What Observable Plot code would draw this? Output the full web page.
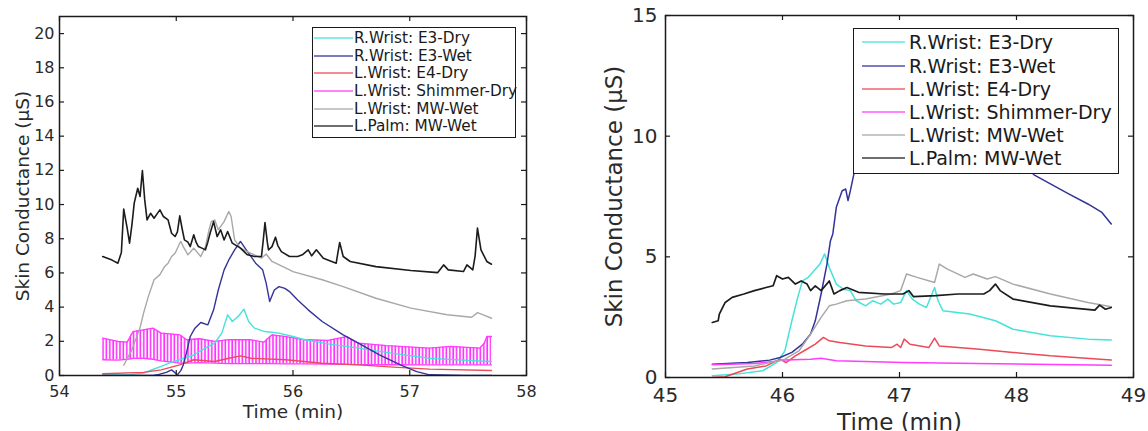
<!DOCTYPE html>
<html>
<head>
<meta charset="utf-8">
<script src="https://cdn.jsdelivr.net/npm/d3@7"></script>
<script src="https://cdn.jsdelivr.net/npm/@observablehq/plot@0.6"></script>
<style>
  html, body { margin: 0; padding: 0; background: #fff; }
  #wrap { position: relative; width: 1148px; height: 431px; overflow: hidden; font-family: "DejaVu Sans", sans-serif; }
  .panel { position: absolute; top: 0; }
  .legend { position: absolute; background: #fff; border: 1.6px solid #1a1a1a; box-sizing: border-box; color: #1a1a1a; }
  .legend .row { position: absolute; left: 0; white-space: nowrap; display: flex; align-items: center; }
</style>
</head>
<body>
<div id="wrap"></div>
<script>
// ---------------- DATA ----------------
const seriesNames = ["R.Wrist: E3-Dry", "R.Wrist: E3-Wet", "L.Wrist: E4-Dry", "L.Wrist: Shimmer-Dry", "L.Wrist: MW-Wet", "L.Palm: MW-Wet"];
const seriesColors = ["#45e3d8", "#33339a", "#ec4a58", "#ff3cff", "#a8a8a8", "#1c1c1c"];

// Left panel (time in min, skin conductance in µS)
const leftXTicks = [54, 55, 56, 57, 58];
const leftYTicks = [0, 2, 4, 6, 8, 10, 12, 14, 16, 18, 20];

const e3DryL = [[54.37,0.02],[54.60,0.05],[54.72,0.14],[54.80,0.35],[54.87,0.53],[54.95,0.75],[55.03,0.92],[55.15,1.2],[55.25,1.6],[55.33,1.9],[55.39,2.48],[55.44,3.55],[55.48,3.16],[55.53,3.45],[55.58,3.88],[55.62,3.16],[55.67,2.77],[55.76,2.57],[55.88,2.48],[56.00,2.28],[56.10,2.09],[56.30,1.85],[56.56,1.6],[56.90,1.25],[57.17,1.01],[57.45,0.9],[57.70,0.82]];
const e3WetL = [[54.37,0],[54.80,0],[54.84,0.04],[54.92,0.2],[54.96,0.33],[55.00,0.1],[55.01,0.04],[55.04,0.3],[55.06,0.62],[55.09,1.4],[55.12,2.28],[55.16,2.77],[55.21,3.1],[55.27,2.96],[55.32,3.84],[55.36,5.0],[55.41,6.18],[55.45,6.76],[55.50,7.35],[55.55,7.84],[55.61,7.25],[55.68,6.57],[55.74,6.18],[55.77,5.4],[55.80,4.33],[55.84,5.0],[55.88,5.2],[55.93,5.1],[55.97,4.91],[56.04,4.42],[56.13,3.84],[56.25,3.16],[56.43,2.38],[56.56,1.89],[56.74,1.21],[56.92,0.62],[57.06,0.23],[57.17,0.04],[57.47,0],[57.70,0]];
const e4DryL = [[54.37,0.1],[54.72,0.18],[54.87,0.33],[55.03,0.62],[55.15,0.92],[55.33,0.82],[55.45,1.01],[55.55,1.15],[55.64,1.01],[55.94,0.92],[56.25,0.72],[56.56,0.62],[56.86,0.49],[57.17,0.37],[57.70,0.29]];
// Shimmer: [time, lower envelope, upper envelope] of the fast oscillation
const shimmerL = [[54.37,0.92,2.18],[54.50,0.9,1.99],[54.58,0.95,1.95],[54.63,1.0,2.57],[54.72,1.01,2.67],[54.80,0.95,2.77],[54.87,0.85,2.48],[55.03,0.72,2.38],[55.09,0.72,2.09],[55.20,0.75,2.15],[55.33,0.72,1.99],[55.45,0.7,2.1],[55.64,0.7,2.09],[55.75,0.7,1.95],[55.82,0.7,2.38],[55.94,0.68,2.28],[56.10,0.68,2.09],[56.30,0.66,2.05],[56.46,0.65,2.28],[56.56,0.64,1.89],[56.80,0.63,1.75],[57.17,0.62,1.6],[57.35,0.62,1.7],[57.60,0.62,1.6],[57.64,0.62,1.9],[57.66,0.62,2.28],[57.70,0.62,2.28]];
const mwWristL = [[54.55,0.6],[54.62,1.5],[54.69,2.8],[54.72,3.65],[54.76,4.6],[54.81,5.6],[54.86,5.9],[54.90,6.37],[54.93,6.57],[54.96,6.96],[54.99,7.15],[55.03,7.74],[55.04,7.84],[55.06,7.54],[55.10,7.06],[55.15,7.45],[55.21,6.96],[55.25,7.54],[55.28,8.5],[55.30,9.0],[55.33,9.1],[55.36,8.52],[55.41,9.0],[55.45,9.59],[55.47,9.3],[55.50,7.93],[55.55,7.45],[55.64,7.15],[55.73,6.86],[55.77,7.11],[55.82,6.67],[55.94,6.28],[56.00,6.08],[56.25,5.6],[56.43,5.2],[56.71,4.52],[57.01,3.94],[57.32,3.55],[57.53,3.41],[57.58,3.68],[57.63,3.55],[57.70,3.35]];
const mwPalmL = [[54.37,6.96],[54.45,6.75],[54.50,6.57],[54.53,7.2],[54.55,9.73],[54.58,8.6],[54.60,7.74],[54.62,8.8],[54.64,10.08],[54.67,10.95],[54.69,10.47],[54.71,11.99],[54.73,10.27],[54.75,9.1],[54.78,9.49],[54.81,9.2],[54.84,9.5],[54.86,9.69],[54.89,9.3],[54.93,9.1],[54.96,8.32],[54.99,8.13],[55.01,8.4],[55.03,9.34],[55.05,8.6],[55.07,7.93],[55.10,7.8],[55.12,7.54],[55.15,8.23],[55.17,7.8],[55.19,7.54],[55.22,7.45],[55.25,7.35],[55.27,7.8],[55.29,8.32],[55.32,9.0],[55.35,8.13],[55.38,8.52],[55.41,7.93],[55.44,8.42],[55.48,7.74],[55.55,7.45],[55.61,7.06],[55.67,6.96],[55.73,6.96],[55.745,7.9],[55.76,8.95],[55.78,7.8],[55.79,7.35],[55.82,7.54],[55.85,8.09],[55.87,7.6],[55.90,7.25],[55.97,6.96],[56.04,6.96],[56.08,7.06],[56.13,7.35],[56.16,7.0],[56.20,7.35],[56.26,6.86],[56.37,6.57],[56.385,7.2],[56.40,7.78],[56.43,6.96],[56.49,6.67],[56.71,6.37],[57.01,6.14],[57.24,6.02],[57.29,6.47],[57.33,6.18],[57.46,6.08],[57.49,6.47],[57.54,6.18],[57.56,7.0],[57.58,8.62],[57.61,7.35],[57.66,6.67],[57.70,6.51]];

// Right panel
const rightXTicks = [45, 46, 47, 48, 49];
const rightYTicks = [0, 5, 10, 15];

const e3DryR = [[45.40,0.07],[45.61,0.14],[45.83,0.28],[45.95,0.62],[46.02,1.1],[46.08,2.35],[46.13,3.32],[46.17,4.0],[46.22,4.15],[46.27,4.42],[46.32,4.7],[46.36,5.12],[46.40,4.56],[46.46,3.87],[46.52,3.66],[46.58,3.6],[46.63,3.18],[46.71,2.97],[46.77,3.18],[46.84,3.04],[46.90,3.25],[46.95,3.04],[47.01,3.11],[47.06,3.6],[47.11,3.25],[47.17,3.04],[47.23,2.9],[47.30,3.73],[47.33,3.18],[47.37,2.77],[47.60,2.63],[47.82,2.35],[47.97,2.0],[48.29,1.73],[48.61,1.59],[48.81,1.55]];
const e3WetR = [[45.40,0.55],[45.70,0.62],[45.89,0.72],[45.98,0.83],[46.08,1.04],[46.17,1.38],[46.24,1.8],[46.28,2.35],[46.33,3.46],[46.38,4.7],[46.41,5.67],[46.43,5.95],[46.46,7.05],[46.51,7.74],[46.54,7.81],[46.56,7.33],[46.58,7.74],[46.61,8.43],[46.70,9.3],[46.90,10.2],[47.20,10.8],[47.60,10.6],[47.90,9.5],[48.15,8.4],[48.29,8.02],[48.45,7.6],[48.61,7.19],[48.73,6.84],[48.81,6.36]];
const e4DryR = [[45.40,0],[45.51,0.03],[45.70,0.35],[45.86,0.48],[45.98,0.76],[46.03,0.62],[46.11,0.9],[46.21,1.18],[46.28,1.38],[46.35,1.66],[46.40,1.52],[46.49,1.45],[46.71,1.31],[46.93,1.24],[46.98,1.38],[47.01,1.24],[47.04,1.59],[47.09,1.38],[47.25,1.24],[47.30,1.63],[47.34,1.31],[47.66,1.18],[47.97,1.04],[48.29,0.9],[48.81,0.73]];
const shimmerR = [[45.40,0.53],[45.76,0.58],[46.02,0.72],[46.24,0.76],[46.33,0.8],[46.46,0.69],[47.03,0.62],[47.66,0.58],[48.81,0.51]];
const mwWristR = [[45.40,0.35],[45.76,0.48],[46.02,0.76],[46.14,1.1],[46.24,1.8],[46.33,2.49],[46.40,2.97],[46.46,3.04],[46.55,3.18],[46.71,3.25],[46.93,3.46],[47.01,3.6],[47.06,4.29],[47.15,4.15],[47.30,3.94],[47.34,4.7],[47.41,4.49],[47.56,4.15],[47.63,4.29],[47.75,4.08],[47.82,4.18],[47.97,3.87],[48.29,3.46],[48.61,3.11],[48.81,2.93]];
const mwPalmR = [[45.40,2.28],[45.45,2.35],[45.46,2.63],[45.51,3.11],[45.57,3.32],[45.67,3.46],[45.76,3.6],[45.86,3.73],[45.92,3.8],[45.95,4.22],[46.00,4.08],[46.05,4.15],[46.11,3.87],[46.16,4.0],[46.21,3.87],[46.24,3.6],[46.28,3.8],[46.33,3.6],[46.40,4.0],[46.44,3.46],[46.49,3.6],[46.55,3.73],[46.65,3.53],[46.87,3.46],[47.03,3.46],[47.08,3.6],[47.12,3.35],[47.31,3.39],[47.50,3.46],[47.72,3.46],[47.77,3.6],[47.82,3.87],[47.86,3.6],[47.97,3.25],[48.29,2.97],[48.67,2.79],[48.71,3.0],[48.76,2.83],[48.81,2.9]];

// ---------------- DRAWING ----------------
const wrap = document.getElementById("wrap");
const ink = "#1a1a1a";
const fmt = d3.format("d");

function panel(cfg) {
  const innerW = cfg.width - cfg.ml - cfg.mr;
  const innerH = cfg.height - cfg.mt - cfg.mb;
  const T = d => d[0], V = d => d[1];
  const lines = cfg.series.map((s, i) => i === 3 ? null :
    Plot.line(s, {x: T, y: V, stroke: seriesColors[i], strokeWidth: i === 5 ? cfg.sw + 0.2 : cfg.sw, clip: true}));
  const shimmerMarks = cfg.hatch
    ? [Plot.areaY(cfg.series[3], {x: T, y1: d => d[1], y2: d => d[2], fill: `url(#${cfg.hatch})`}),
       Plot.line(cfg.series[3], {x: T, y: d => d[2], stroke: seriesColors[3], strokeWidth: 1.3}),
       Plot.line(cfg.series[3], {x: T, y: d => d[1], stroke: seriesColors[3], strokeWidth: 1.3})]
    : [Plot.line(cfg.series[3], {x: T, y: V, stroke: seriesColors[3], strokeWidth: cfg.sw})];
  const order = cfg.hatch ? [...shimmerMarks, lines[0], lines[2], lines[1], lines[4], lines[5]]
                          : [lines[0], lines[1], lines[2], ...shimmerMarks, lines[4], lines[5]];
  const svg = Plot.plot({
    width: cfg.width, height: cfg.height,
    marginLeft: cfg.ml, marginRight: cfg.mr, marginTop: cfg.mt, marginBottom: cfg.mb,
    x: {domain: cfg.xDomain},
    y: {domain: cfg.yDomain},
    style: {fontFamily: "DejaVu Sans", color: ink, background: "transparent", overflow: "visible"},
    marks: [
      ...order,
      Plot.frame({stroke: ink, strokeWidth: 1.5}),
      Plot.tickX(cfg.xTicks, {x: d => d, insetTop: innerH - 5, stroke: ink, strokeWidth: 1.2}),
      Plot.tickX(cfg.xTicks, {x: d => d, insetBottom: innerH - 5, stroke: ink, strokeWidth: 1.2}),
      Plot.tickY(cfg.yTicks, {y: d => d, insetRight: innerW - 5, stroke: ink, strokeWidth: 1.2}),
      Plot.tickY(cfg.yTicks, {y: d => d, insetLeft: innerW - 5, stroke: ink, strokeWidth: 1.2}),
      Plot.axisX(cfg.xTicks, {tickSize: 0, tickPadding: cfg.xPad, fontSize: cfg.tickFont, tickFormat: fmt, label: null, fill: "#2a2a2a"}),
      Plot.axisY(cfg.yTicks, {tickSize: 0, tickPadding: cfg.yPad, fontSize: cfg.tickFont, tickFormat: fmt, label: null, fill: "#2a2a2a"}),
      Plot.text(["Time (min)"], {frameAnchor: "bottom", dy: cfg.xTitleDy, textAnchor: "middle", lineAnchor: "middle", fontSize: cfg.titleFont, fill: "#2a2a2a"}),
      Plot.text(["Skin Conductance (\u03bcS)"], {frameAnchor: "left", dx: cfg.yTitleDx, textAnchor: "middle", lineAnchor: "middle", rotate: -90, fontSize: cfg.titleFont, fill: "#2a2a2a"})
    ]
  });
  if (cfg.hatch) {
    const defs = document.createElementNS("http://www.w3.org/2000/svg", "defs");
    defs.innerHTML = `<pattern id="${cfg.hatch}" patternUnits="userSpaceOnUse" width="3.4" height="10">
      <rect width="3.4" height="10" fill="#fff"/>
      <line x1="1" y1="0" x2="1" y2="10" stroke="#ff2cff" stroke-width="1.6"/></pattern>`;
    svg.insertBefore(defs, svg.firstChild);
  }
  svg.classList.add("panel");
  svg.style.left = cfg.left + "px";
  wrap.appendChild(svg);
}

function legend(cfg) {
  const box = document.createElement("div");
  box.className = "legend";
  Object.assign(box.style, {left: cfg.left + "px", top: cfg.top + "px", width: cfg.width + "px", height: cfg.height + "px", fontSize: cfg.fontSize + "px"});
  seriesNames.forEach((name, i) => {
    const row = document.createElement("div");
    row.className = "row";
    row.style.top = (cfg.firstY + i * cfg.step - cfg.fontSize * 0.6) + "px";
    row.style.height = (cfg.fontSize * 1.2) + "px";
    row.innerHTML = `<svg width="${cfg.x1}" height="4" style="flex:none"><line x1="${cfg.x0}" x2="${cfg.x1}" y1="2" y2="2" stroke="${seriesColors[i]}" stroke-width="${cfg.sw}" opacity="0.85"/></svg><span style="margin-left:${cfg.gap}px">${name}</span>`;
    box.appendChild(row);
  });
  wrap.appendChild(box);
}

panel({
  left: 0, width: 560, height: 431, ml: 59, mr: 34, mt: 16, mb: 56,
  xDomain: [54, 58], yDomain: [0, 21], xTicks: leftXTicks, yTicks: leftYTicks,
  series: [e3DryL, e3WetL, e4DryL, shimmerL, mwWristL, mwPalmL],
  sw: 1.4, hatch: "hatchL", tickFont: 16, titleFont: 18.5, xPad: 10, yPad: 5,
  xTitleDy: 37, yTitleDx: -36
});
panel({
  left: 570, width: 578, height: 431, ml: 95, mr: 15, mt: 15, mb: 54,
  xDomain: [45, 49], yDomain: [0, 15], xTicks: rightXTicks, yTicks: rightYTicks,
  series: [e3DryR, e3WetR, e4DryR, shimmerR, mwWristR, mwPalmR],
  sw: 1.5, hatch: null, tickFont: 20, titleFont: 23, xPad: 10, yPad: 8,
  xTitleDy: 45, yTitleDx: -51
});
legend({left: 312, top: 27, width: 204, height: 111, fontSize: 15.3, firstY: 10, step: 17.7, x0: 1, x1: 40, gap: 1, sw: 1.4});
legend({left: 853, top: 28, width: 266, height: 146, fontSize: 19, firstY: 13.5, step: 23.2, x0: 8, x1: 51, gap: 4, sw: 1.6});
</script>
</body>
</html>
